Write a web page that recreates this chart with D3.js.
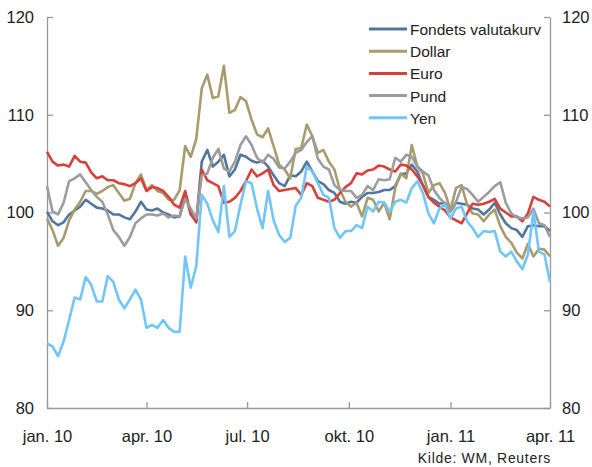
<!DOCTYPE html>
<html>
<head>
<meta charset="utf-8">
<script src="https://cdn.jsdelivr.net/npm/d3@7"></script>
<style>
body { margin: 0; background: #fff; }
text { font-family: "Liberation Sans", Arial, sans-serif; fill: #222; }
</style>
</head>
<body>
<div id="graphic"></div>
<script>
// observations every 5 days from 1 jan 2010
var startDate = "2010-01-01";
var stepDays = 5;

var fondets = [100.1, 99.1, 98.7, 99.0, 99.8, 100.2, 100.6, 101.3, 100.9, 100.5,
	100.4, 100.2, 99.8, 99.8, 99.5, 99.3, 100.1, 101.1, 100.3, 100.2,
	100.4, 100.0, 99.8, 99.5, 99.6, 102.0, 99.8, 99.1, 105.2, 106.4,
	104.7, 105.2, 105.9, 103.7, 104.4, 105.9, 105.7, 105.3, 105.1, 105.3,
	104.7, 103.8, 103.0, 102.7, 103.8, 103.7,
	104.2, 105.2, 104.2, 103.2, 102.9, 102.3, 102.0, 101.1, 100.9, 101.1,
	101.0, 101.6, 102.0, 102.0, 102.1, 102.3, 102.3, 102.7, 103.9, 104.0, 104.9, 104.2,
	102.8, 101.6, 101.3, 100.9, 101.0, 100.1, 101.0, 100.9, 100.8, 100.4,
	100.3, 99.8, 100.3, 101.0, 99.8, 98.9, 98.4, 98.2, 97.5, 98.6, 98.7, 98.6, 98.6, 98.1];

var dollar = [99.4, 98.2, 96.6, 97.4, 99.2, 100.3, 101.1, 102.2, 102.2, 101.9,
	102.2, 102.6, 102.8, 102.0, 101.2, 101.4, 103.0, 103.9, 102.3, 102.8,
	102.2, 102.0, 101.3, 101.3, 102.3, 106.8, 105.7, 107.5, 112.7, 114.1,
	111.7, 111.9, 115.0, 110.2, 110.5, 111.8, 111.4, 109.5, 108.0, 107.7,
	108.6, 106.8, 104.9, 104.4, 103.5, 106.5,
	106.6, 109.0, 107.8, 106.1, 106.4, 105.2, 104.4, 102.3, 101.1, 100.6,
	101.0, 99.6, 101.5, 101.3, 100.1, 101.0, 99.3, 102.5, 104.0, 103.5, 106.9, 104.7,
	104.0, 102.0, 102.8, 103.0, 102.0, 100.3, 102.5, 102.8, 100.8, 99.9,
	99.8, 99.1, 99.8, 100.3, 98.6, 97.5, 96.9, 95.9, 95.3, 96.8, 95.5, 96.3, 96.2, 95.5];

var euro = [106.2, 105.2, 104.8, 104.9, 104.7, 105.8, 105.2, 105.1, 104.1, 103.5,
	103.7, 103.3, 103.3, 103.0, 102.9, 102.7, 103.0, 103.5, 102.2, 102.6,
	102.5, 102.2, 101.6, 100.8, 100.5, 102.2, 99.9, 99.0, 104.4, 103.3,
	103.0, 102.7, 101.0, 101.1, 101.5, 102.2, 103.2, 104.4, 103.7, 104.0,
	104.4, 102.8, 102.2, 102.3, 102.4, 102.5,
	101.8, 103.0, 102.7, 101.5, 101.3, 101.1, 101.3, 102.0, 102.6, 103.0,
	104.0, 103.9, 104.3, 104.4, 104.8, 104.7, 104.4, 104.2, 104.9, 104.8, 104.4, 103.7,
	102.8, 101.6, 101.0, 100.6, 100.2, 99.5, 99.2, 98.9, 99.9, 100.9,
	100.8, 100.9, 101.1, 101.4, 100.4, 100.0, 99.6, 99.6, 99.1, 99.9, 101.6, 101.3, 101.1, 100.6];

var pund = [102.7, 100.1, 99.8, 101.0, 103.2, 103.5, 103.9, 103.1, 102.3, 101.6,
	101.1, 99.8, 98.2, 97.5, 96.6, 97.5, 98.9, 99.4, 99.8, 99.8,
	99.7, 99.9, 99.5, 99.7, 99.6, 101.4, 100.4, 99.4, 103.8, 104.0,
	105.6, 106.5, 104.5, 104.2, 105.2, 106.9, 107.8, 106.9, 105.6, 105.1,
	105.9, 105.5, 104.6, 104.5, 105.2, 106.1,
	106.4, 107.2, 107.8, 105.5, 104.7, 104.4, 102.8, 102.3, 102.2, 102.2,
	101.5, 101.8, 102.7, 102.3, 103.4, 103.3, 103.4, 105.6, 105.2, 105.9, 105.7, 104.7,
	104.2, 103.8, 102.3, 101.5, 100.9, 100.1, 101.1, 102.6, 102.4, 101.8,
	101.1, 101.6, 102.1, 102.7, 103.1, 101.0, 99.9, 99.5, 99.4, 99.5, 100.4, 98.9, 98.7, 97.5];

var yen = [86.6, 86.3, 85.3, 86.8, 89.0, 91.3, 91.1, 93.4, 92.6, 90.9,
	90.9, 93.5, 92.9, 91.1, 90.2, 91.1, 92.1, 91.1, 88.2, 88.5,
	88.2, 89.0, 88.2, 87.8, 87.8, 95.5, 92.3, 94.5, 101.8, 100.9,
	99.2, 98.0, 102.7, 97.5, 98.1, 100.8, 103.2, 103.0, 100.4, 98.4,
	102.2, 99.2, 97.7, 97.0, 97.4, 100.7,
	101.5, 104.7, 104.2, 103.0, 101.8, 101.5, 98.4, 97.4, 98.1, 98.1,
	98.7, 98.4, 100.6, 100.1, 101.1, 101.0, 100.1, 101.1, 101.3, 101.0, 102.5, 103.2,
	102.0, 99.9, 98.9, 100.4, 100.8, 99.4, 100.4, 100.6, 99.1, 98.4,
	97.5, 98.1, 98.0, 98.1, 96.0, 95.5, 96.0, 95.0, 94.2, 95.7, 100.1, 96.0, 95.7, 92.9];

var seriesNames = ["Fondets valutakurv", "Dollar", "Euro", "Pund", "Yen"];
var seriesColors = ["#52779f", "#a89b6e", "#d8403a", "#9c9c9c", "#70c6f6"];

var yTicks = [80, 90, 100, 110, 120];
var xTickDates = ["2010-01-01", "2010-04-01", "2010-07-01", "2010-10-01", "2011-01-01", "2011-04-01"];
var xTickLabels = ["jan. 10", "apr. 10", "jul. 10", "okt. 10", "jan. 11", "apr. 11"];
var source = "Kilde: WM, Reuters";

var width = 592, height = 467;
var margin = {top: 17, right: 42, bottom: 59, left: 47};

var parse = d3.timeParse("%Y-%m-%d");
var t0 = parse(startDate);
var allSeries = [fondets, dollar, euro, pund, yen];

var svg = d3.select("#graphic").append("svg")
	.attr("width", width)
	.attr("height", height);

var x = d3.scaleTime()
	.domain([parse(xTickDates[0]), parse(xTickDates[xTickDates.length - 1])])
	.range([margin.left, width - margin.right]);

var y = d3.scaleLinear()
	.domain([80, 120])
	.range([height - margin.bottom, margin.top]);

function styleAxis(g) {
	g.select(".domain").attr("stroke", "#999").attr("stroke-width", 1.3);
	g.selectAll(".tick line").attr("stroke", "#999").attr("stroke-width", 1.3);
	g.selectAll(".tick text").attr("fill", "#222")
		.style("font-family", '"Liberation Sans", Arial, sans-serif')
		.style("font-size", "16.5px");
}

svg.append("g")
	.attr("transform", "translate(" + margin.left + ",0)")
	.call(d3.axisLeft(y).tickValues(yTicks).tickSizeInner(-6).tickSizeOuter(0).tickPadding(13))
	.call(styleAxis);

svg.append("g")
	.attr("transform", "translate(" + (width - margin.right) + ",0)")
	.call(d3.axisRight(y).tickValues(yTicks).tickSizeInner(-6).tickSizeOuter(0).tickPadding(12))
	.call(styleAxis);

svg.append("g")
	.attr("transform", "translate(0," + (height - margin.bottom) + ")")
	.call(d3.axisBottom(x).tickValues(xTickDates.map(parse))
		.tickFormat(function(d, i) { return xTickLabels[i]; })
		.tickSizeInner(-6).tickSizeOuter(0).tickPadding(22))
	.call(styleAxis);

var line = d3.line()
	.x(function(d, i) { return x(d3.timeDay.offset(t0, i * stepDays)); })
	.y(function(d) { return y(d); });

svg.append("g").selectAll("path")
	.data(allSeries)
	.enter().append("path")
	.attr("d", line)
	.attr("fill", "none")
	.attr("stroke", function(d, i) { return seriesColors[i]; })
	.attr("stroke-width", 2.6)
	.attr("stroke-linejoin", "round");

// legend
var legend = svg.append("g").attr("transform", "translate(369,29)");
var rows = legend.selectAll("g").data(seriesNames).enter().append("g")
	.attr("transform", function(d, i) { return "translate(0," + (i * 22.2) + ")"; });
rows.append("line")
	.attr("x1", 0).attr("x2", 38)
	.attr("stroke", function(d, i) { return seriesColors[i]; })
	.attr("stroke-width", 3);
rows.append("text")
	.attr("x", 41).attr("y", 6)
	.style("font-size", "15.5px")
	.text(function(d) { return d; });

svg.append("text")
	.attr("x", width - margin.right + 1)
	.attr("y", 463)
	.attr("text-anchor", "end")
	.style("font-size", "14px")
	.style("letter-spacing", "0.7px")
	.text(source);
</script>
</body>
</html>
